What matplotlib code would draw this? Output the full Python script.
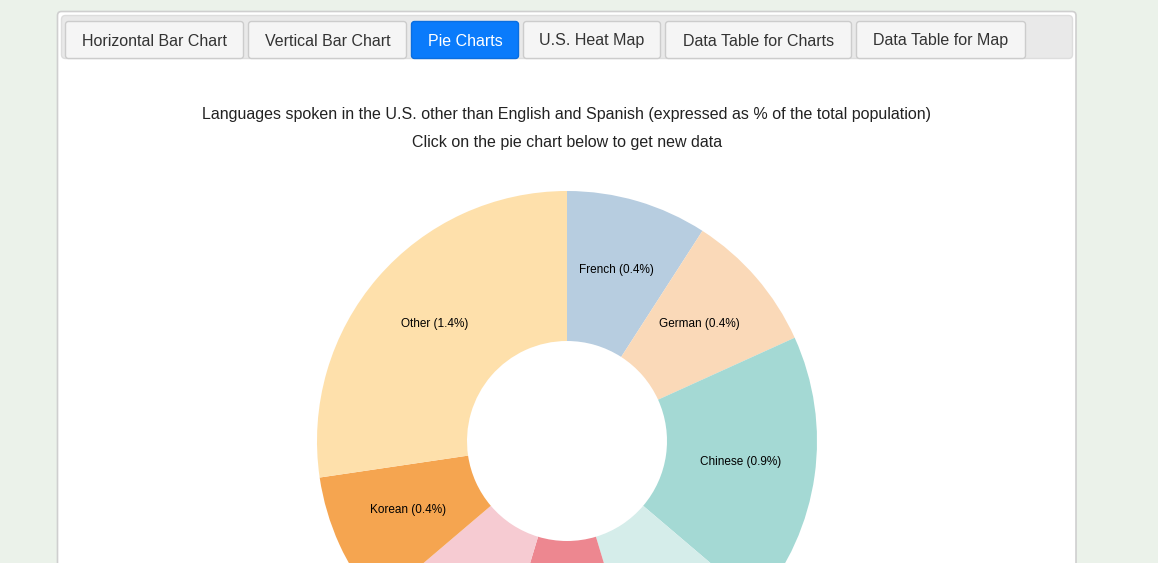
import matplotlib
matplotlib.use("Agg")
import matplotlib.pyplot as plt
from matplotlib.patches import FancyBboxPatch
import numpy as np

plt.rcParams['font.family'] = ['Liberation Sans', 'DejaVu Sans']

# data
tab_names = ['Horizontal Bar Chart', 'Vertical Bar Chart', 'Pie Charts',
             'U.S. Heat Map', 'Data Table for Charts', 'Data Table for Map']
active_tab = 'Pie Charts'

languages = ['French', 'German', 'Chinese', 'Vietnamese', 'Tagalog',
             'Russian', 'Korean', 'Other']
shares = [0.40, 0.40, 0.79, 0.40, 0.41, 0.40, 0.39, 1.20]   # slice sizes
shown_pct = [0.4, 0.4, 0.9, None, None, None, 0.4, 1.4]     # labels printed on the chart
colors = ['#b7cde0', '#fad9b8', '#a4d9d4', '#d5edea', '#ed8790',
          '#f6cbd2', '#f5a550', '#fee0ab']

title = 'Languages spoken in the U.S. other than English and Spanish (expressed as % of the total population)'
subtitle = 'Click on the pie chart below to get new data'

# layout (pixels)
W, H = 1158, 563
tab_edges = [(65, 244), (248, 407), (411, 519), (523, 661), (665, 852), (856, 1026)]
cx, cy, r_out, r_in = 567, 441, 250, 100

fig = plt.figure(figsize=(W / 100, H / 100), dpi=100, facecolor='#ebf2ea')
ax = fig.add_axes([0, 0, 1, 1])

# donut (y axis gets inverted below, so start at -90 and go counterclockwise in data terms)
wedges, _ = ax.pie(shares, colors=colors, center=(cx, cy), radius=r_out, startangle=-90,
                   counterclock=True, wedgeprops=dict(width=r_out - r_in, linewidth=0, zorder=3))
ax.set_xlim(0, W)
ax.set_ylim(H, 0)
ax.set_aspect('equal')
ax.axis('off')

# white panel and tab strip
ax.add_patch(FancyBboxPatch((57.5, 11.5), 1076 - 57.5, 700, boxstyle='round,pad=0,rounding_size=4',
                            fc='white', ec='#cfcfcf', lw=1.2, zorder=1))
ax.add_patch(FancyBboxPatch((61.5, 15.5), 1072.5 - 61.5, 43, boxstyle='round,pad=0,rounding_size=4',
                            fc='#e9e9e9', ec='#dddddd', lw=1, zorder=2))

for name, (x0, x1) in zip(tab_names, tab_edges):
    on = name == active_tab
    ax.add_patch(FancyBboxPatch((x0 + 0.5, 21.5), x1 - x0 - 1, 37, boxstyle='round,pad=0,rounding_size=3',
                                fc='#0a7bfb' if on else '#f5f5f5',
                                ec='#0a6ee0' if on else '#cccccc', lw=1, zorder=2))
    ax.text((x0 + x1) / 2, 45.5, name, ha='center', va='baseline', fontsize=11.5,
            color='white' if on else '#333333', zorder=4)

ax.text(cx, 114, title, ha='center', va='center', fontsize=11.5, color='#222222')
ax.text(cx, 142, subtitle, ha='center', va='center', fontsize=11.5, color='#222222')

r_lab = (r_out + r_in) / 2
for w, lang, pct in zip(wedges, languages, shown_pct):
    if pct is None:
        continue
    mid = np.deg2rad((w.theta1 + w.theta2) / 2)
    ax.text(cx + r_lab * np.cos(mid), cy + r_lab * np.sin(mid) - 3, f'{lang} ({pct}%)',
            ha='center', va='center', fontsize=8.5, color='black', zorder=4)

fig.savefig('out.png', dpi=100, facecolor=fig.get_facecolor())
